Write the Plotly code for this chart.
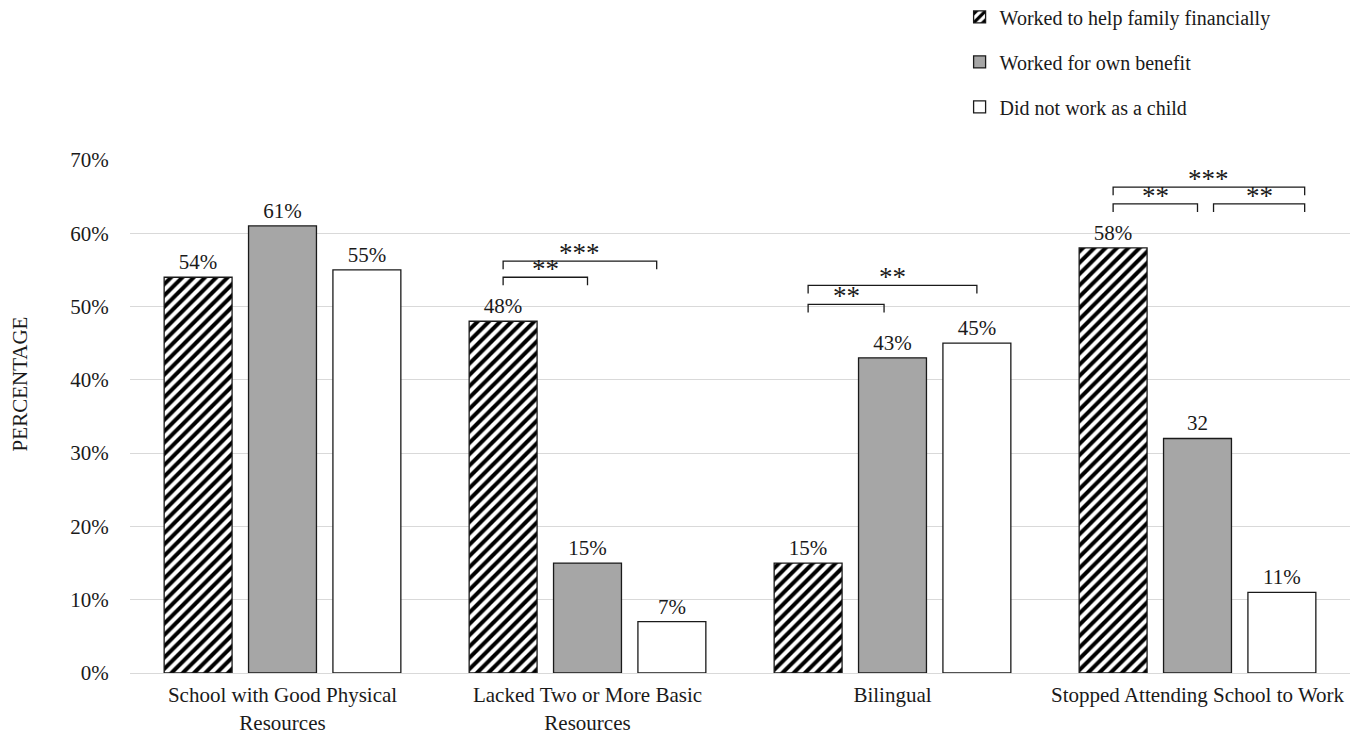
import plotly.graph_objects as go

categories = ["School with Good Physical<br>Resources", "Lacked Two or More Basic<br>Resources",
              "Bilingual", "Stopped Attending School to Work"]
series_names = ["Worked to help family financially", "Worked for own benefit", "Did not work as a child"]
helped_family = [54, 48, 15, 58]
own_benefit = [61, 15, 43, 32]
did_not_work = [55, 7, 45, 11]
helped_labels = ["54%", "48%", "15%", "58%"]
own_labels = ["61%", "15%", "43%", "32"]
notwork_labels = ["55%", "7%", "45%", "11%"]
y_title = "PERCENTAGE"

# significance brackets: (category index, from bar pos, to bar pos, level %, label)
brackets = [
    (1, 0, 1, 54.0, "**"),
    (1, 0, 1.82, 56.2, "***"),
    (2, 0, 0.9, 50.3, "**"),
    (2, 0, 2, 52.9, "**"),
    (3, 0, 1, 64.0, "**"),
    (3, 1.19, 2.27, 64.0, "**"),
    (3, 0, 2.27, 66.3, "***"),
]

FONT = "Liberation Serif, Times New Roman, serif"
INK = "#1a1a1a"
xpos = list(range(len(categories)))
BARGAP = 0.17
slot = (1 - BARGAP) / 3

fig = go.Figure()
styles = [
    dict(color="white", pattern=dict(shape="/", fgcolor="black", bgcolor="white", fgopacity=1,
                                     size=8, solidity=0.5)),
    dict(color="#a6a6a6"),
    dict(color="white"),
]
for i, (name, vals, labs) in enumerate(zip(series_names, [helped_family, own_benefit, did_not_work],
                                            [helped_labels, own_labels, notwork_labels])):
    fig.add_trace(go.Bar(
        x=xpos, y=vals, name=name, text=labs, textposition="outside",
        textfont=dict(family=FONT, size=21, color=INK), cliponaxis=False,
        marker=dict(line=dict(color=INK, width=1.3), **styles[i]),
        legendgroup=f"g{i}",
    ))

tick = 1.1
for cat, a, b, lvl, lab in brackets:
    x0 = cat + (a - 1) * slot
    x1 = cat + (b - 1) * slot
    fig.add_shape(type="path",
                  path=f"M {x0},{lvl - tick} L {x0},{lvl} L {x1},{lvl} L {x1},{lvl - tick}",
                  line=dict(color=INK, width=1.3), xref="x", yref="y")
    fig.add_annotation(x=(x0 + x1) / 2, y=lvl, text=lab, showarrow=False, yanchor="bottom",
                       yshift=-9, font=dict(family=FONT, size=27, color=INK))

fig.add_annotation(x=-0.09, y=0.563, xref="paper", yref="paper", text=y_title, textangle=-90,
                   showarrow=False, xanchor="center", yanchor="middle",
                   font=dict(family=FONT, size=21, color=INK))

fig.update_layout(
    width=1366, height=737,
    margin=dict(l=130, r=16, t=160, b=64, autoexpand=False),
    paper_bgcolor="white", plot_bgcolor="white",
    barmode="group", bargap=BARGAP, bargroupgap=0.195,
    font=dict(family=FONT, size=21, color=INK),
    legend=dict(x=0.68, y=1.317, xanchor="left", yanchor="top", orientation="v",
                font=dict(family=FONT, size=20, color=INK), tracegroupgap=16,
                itemwidth=30, bgcolor="rgba(0,0,0,0)"),
    xaxis=dict(tickvals=xpos, ticktext=categories, range=[-0.5, 3.5], showgrid=False,
               zeroline=False, showline=False, ticks="outside", ticklen=3, tickcolor="rgba(0,0,0,0)",
               tickfont=dict(size=21)),
    yaxis=dict(range=[0, 70], dtick=10, ticksuffix="%", showgrid=True, gridcolor="#d9d9d9",
               gridwidth=1, zeroline=True, zerolinecolor="#d9d9d9", zerolinewidth=1,
               showline=False, ticks="outside", ticklen=16, tickcolor="rgba(0,0,0,0)",
               tickfont=dict(size=21)),
)

fig.write_html("out.html")
